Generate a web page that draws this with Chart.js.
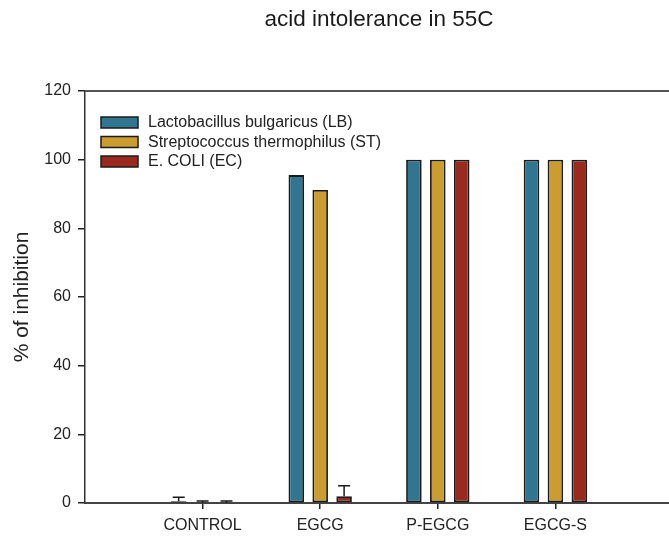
<!DOCTYPE html>
<html>
<head>
<meta charset="utf-8">
<script src="https://cdn.jsdelivr.net/npm/chart.js@4"></script>
<style>
  html, body { margin: 0; padding: 0; background: #fff; overflow: hidden; }
  #wrap { width: 680px; height: 537px; }
</style>
</head>
<body>
<div id="wrap"><canvas id="chart" width="680" height="537"></canvas></div>
<script>
// chart data
const categories = ['CONTROL', 'EGCG', 'P-EGCG', 'EGCG-S'];
const seriesNames = ['Lactobacillus bulgaricus (LB)', 'Streptococcus thermophilus (ST)', 'E. COLI (EC)'];
const lbValues = [0.5, 95.5, 100, 100];
const stValues = [0, 91.2, 100, 100];
const ecValues = [0, 2, 100, 100];
const lbErrors = [1.2, 0, 0, 0];
const stErrors = [0.6, 0, 0, 0];
const ecErrors = [0.6, 3, 0, 0];
const yTicks = [0, 20, 40, 60, 80, 100, 120];

const colors = ['#317690', '#cb9c2f', '#9a2a1e'];
const fontFamily = 'Arial, "Liberation Sans", sans-serif';

// empty slot on each side so the groups sit where they do in the figure
const labels = [''].concat(categories, ['']);
const pad = arr => [null].concat(arr, [null]);

const datasets = [lbValues, stValues, ecValues].map(function (vals, i) {
    return {
        label: seriesNames[i],
        data: pad(vals),
        errors: pad([lbErrors, stErrors, ecErrors][i]),
        backgroundColor: colors[i],
        borderColor: '#1b1b1b',
        borderWidth: 1.8,
        borderSkipped: false,
        categoryPercentage: 0.61,
        barPercentage: 0.65
    };
});

// error bars (upper half only) + top frame line + legend inside plot
const extras = {
    id: 'extras',
    afterDatasetsDraw(chart) {
        const ctx = chart.ctx;
        const y = chart.scales.y;
        ctx.save();
        ctx.strokeStyle = '#1b1b1b';
        ctx.lineWidth = 1.5;
        chart.data.datasets.forEach(function (ds, i) {
            const meta = chart.getDatasetMeta(i);
            meta.data.forEach(function (el, j) {
                const err = ds.errors[j];
                if (!err) return;
                const top = y.getPixelForValue(ds.data[j] + err);
                ctx.beginPath();
                ctx.moveTo(el.x, el.y);
                ctx.lineTo(el.x, top);
                ctx.moveTo(el.x - 6, top);
                ctx.lineTo(el.x + 6, top);
                ctx.stroke();
            });
        });
        ctx.restore();
    },
    afterDraw(chart) {
        const ctx = chart.ctx;
        const area = chart.chartArea;
        ctx.save();
        ctx.strokeStyle = '#555';
        ctx.lineWidth = 2;
        ctx.beginPath();
        ctx.moveTo(area.left, area.top);
        ctx.lineTo(area.right, area.top);
        ctx.stroke();

        ctx.font = '16px ' + fontFamily;
        ctx.textBaseline = 'middle';
        chart.data.datasets.forEach(function (ds, i) {
            const bx = area.left + 16;
            const by = area.top + 26 + i * 19.5;
            ctx.fillStyle = ds.backgroundColor;
            ctx.fillRect(bx, by, 37, 11);
            ctx.strokeStyle = '#1b1b1b';
            ctx.lineWidth = 1.5;
            ctx.strokeRect(bx, by, 37, 11);
            ctx.fillStyle = '#222';
            ctx.fillText(ds.label, area.left + 63, by + 6);
        });
        ctx.restore();
    }
};

new Chart(document.getElementById('chart'), {
    type: 'bar',
    data: { labels: labels, datasets: datasets },
    options: {
        responsive: false,
        animation: false,
        layout: { padding: { left: 0, right: 5, top: 0, bottom: 0 } },
        plugins: {
            legend: { display: false },
            tooltip: { enabled: false },
            title: {
                display: true,
                text: 'acid intolerance in 55C',
                fullSize: false,
                color: '#1a1a1a',
                font: { family: fontFamily, size: 22.5, weight: 'normal' },
                padding: { top: 6, bottom: 58 }
            }
        },
        scales: {
            x: {
                offset: false,
                grid: {
                    offset: false,
                    drawOnChartArea: false,
                    tickLength: 6,
                    lineWidth: 1.5,
                    color: c => (c.index === 0 || c.index === labels.length - 1) ? 'rgba(0,0,0,0)' : '#222'
                },
                border: { color: '#444', width: 2 },
                ticks: {
                    color: '#222',
                    padding: 7,
                    maxRotation: 0,
                    autoSkip: false,
                    font: { family: fontFamily, size: 16 }
                },
                afterFit: s => { s.height = 34; }
            },
            y: {
                min: 0,
                max: 120,
                afterBuildTicks: s => { s.ticks = yTicks.map(v => ({ value: v })); },
                grid: {
                    drawOnChartArea: false,
                    tickLength: 7,
                    lineWidth: 1.5,
                    color: '#222'
                },
                border: { color: '#333', width: 1.5 },
                ticks: {
                    color: '#222',
                    padding: 7,
                    font: { family: fontFamily, size: 16 }
                },
                title: {
                    display: true,
                    text: '% of inhibition',
                    color: '#222',
                    padding: { top: 10, bottom: 0 },
                    font: { family: fontFamily, size: 21 }
                },
                afterFit: s => { s.width = 85; }
            }
        }
    },
    plugins: [extras]
});
</script>
</body>
</html>
